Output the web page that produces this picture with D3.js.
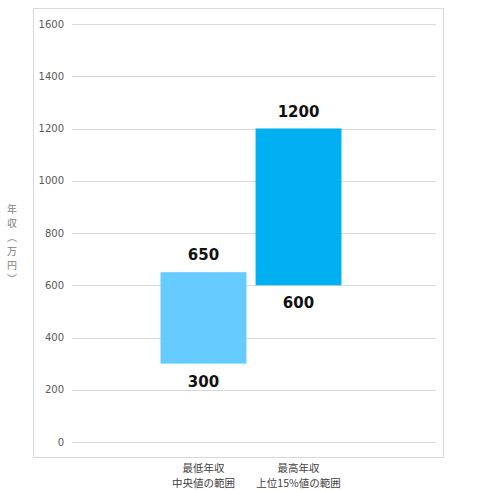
<!DOCTYPE html>
<html>
<head>
<meta charset="utf-8">
<script src="https://cdn.jsdelivr.net/npm/d3@7"></script>
<style>
  body { margin: 0; background: #fff; }
  text { font-family: "Noto Sans CJK JP", "Noto Sans", sans-serif; }
</style>
</head>
<body>
<div id="chart"></div>
<script>
// categories (two-line labels)
var categories = ["最低年収\n中央値の範囲", "最高年収\n上位15%値の範囲"];
// floating bars: lower and upper ends
var lowValues = [300, 600];
var highValues = [650, 1200];
var barColors = ["#66CCFF", "#00B0F0"];
var yTicks = [0, 200, 400, 600, 800, 1000, 1200, 1400, 1600];
var yTitle = "年収（万円）";

var svgWidth = 477;
var svgHeight = 491;

var margin = { top: 24, right: 41, bottom: 49, left: 72 };
var width = svgWidth - margin.left - margin.right;
var height = svgHeight - margin.top - margin.bottom;

var svg = d3.select("#chart")
  .append("svg")
  .attr("width", svgWidth)
  .attr("height", svgHeight);

// chart area border
svg.append("rect")
  .attr("x", 33.5)
  .attr("y", 8.5)
  .attr("width", 410)
  .attr("height", 449)
  .attr("fill", "none")
  .attr("stroke", "#d9d9d9");

var chartGroup = svg.append("g")
  .attr("transform", `translate(${margin.left}, ${margin.top})`);

var yScale = d3.scaleLinear()
  .domain([0, 1600])
  .range([height, 0]);

var xScale = d3.scaleBand()
  .domain(categories)
  .range([-5, width - 1])
  .paddingInner(0.096)
  .paddingOuter(0.984);

// gridlines
chartGroup.append("g")
  .selectAll("line")
  .data(yTicks)
  .enter()
  .append("line")
  .attr("x1", 0)
  .attr("x2", width)
  .attr("y1", d => Math.round(yScale(d)) + 0.5)
  .attr("y2", d => Math.round(yScale(d)) + 0.5)
  .attr("stroke", "#d9d9d9")
  .attr("stroke-width", 1);

// y axis labels
var leftAxis = d3.axisLeft(yScale)
  .tickValues(yTicks)
  .tickFormat(d3.format("d"))
  .tickSize(0)
  .tickPadding(8);
var yAxis = chartGroup.append("g").call(leftAxis);
yAxis.select(".domain").remove();
yAxis.selectAll("text")
  .attr("fill", "#595959")
  .style("font-size", "10px")
  .style("font-family", "'DejaVu Sans', sans-serif");

// bars
chartGroup.append("g")
  .selectAll("rect")
  .data(categories)
  .enter()
  .append("rect")
  .attr("x", d => xScale(d))
  .attr("width", xScale.bandwidth())
  .attr("y", (d, i) => yScale(highValues[i]))
  .attr("height", (d, i) => yScale(lowValues[i]) - yScale(highValues[i]))
  .attr("fill", (d, i) => barColors[i]);

// value labels above and below
chartGroup.selectAll(".hiLabel")
  .data(categories)
  .enter()
  .append("text")
  .attr("class", "hiLabel")
  .attr("x", d => xScale(d) + xScale.bandwidth() / 2)
  .attr("y", (d, i) => yScale(highValues[i]) - 12)
  .attr("text-anchor", "middle")
  .attr("font-size", 15)
  .attr("font-weight", "bold")
  .attr("fill", "#111")
  .style("font-family", "'DejaVu Sans', sans-serif")
  .text((d, i) => highValues[i]);

chartGroup.selectAll(".loLabel")
  .data(categories)
  .enter()
  .append("text")
  .attr("class", "loLabel")
  .attr("x", d => xScale(d) + xScale.bandwidth() / 2)
  .attr("y", (d, i) => yScale(lowValues[i]) + 23)
  .attr("text-anchor", "middle")
  .attr("font-size", 15)
  .attr("font-weight", "bold")
  .attr("fill", "#111")
  .style("font-family", "'DejaVu Sans', sans-serif")
  .text((d, i) => lowValues[i]);

// category labels, one text per line
var catLines = [];
categories.forEach(function(c) {
  c.split("\n").forEach(function(s, i) {
    catLines.push({ cat: c, line: s, row: i });
  });
});

chartGroup.selectAll(".catLabel")
  .data(catLines)
  .enter()
  .append("text")
  .attr("class", "catLabel")
  .attr("x", d => xScale(d.cat) + xScale.bandwidth() / 2)
  .attr("y", d => height + 30 + d.row * 14.5)
  .attr("text-anchor", "middle")
  .attr("font-size", 10.5)
  .attr("fill", "#404040")
  .text(d => d.line);

// y axis title, vertical
svg.append("text")
  .attr("x", 12)
  .attr("y", 204)
  .attr("font-size", 10)
  .attr("fill", "#7f7f7f")
  .style("writing-mode", "vertical-rl")
  .style("letter-spacing", "4px")
  .text(yTitle);
</script>
</body>
</html>
